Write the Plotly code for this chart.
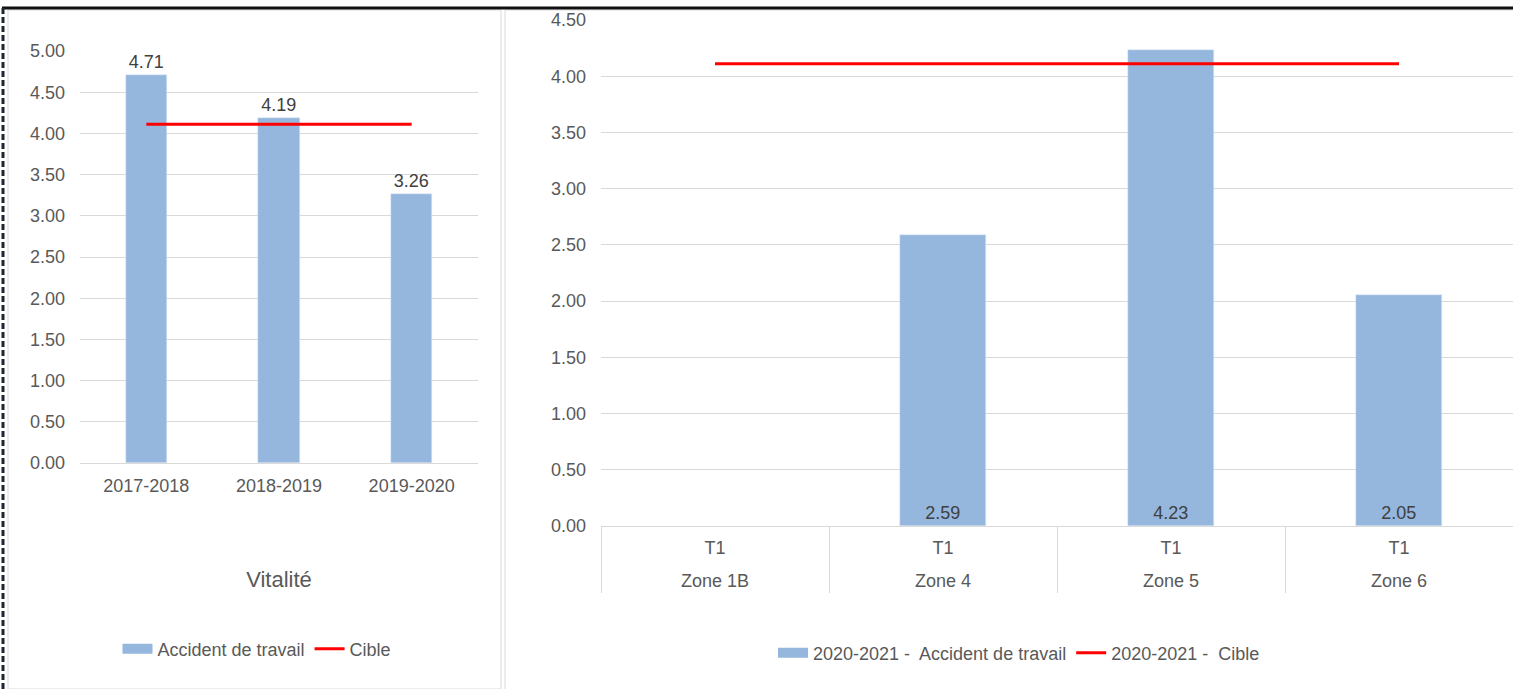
import plotly.graph_objects as go

# ---- data ----
years = ["2017-2018", "2018-2019", "2019-2020"]
accident_years = [4.71, 4.19, 3.26]
cible_years = [4.11, 4.11, 4.11]

zones = ["Zone 1B", "Zone 4", "Zone 5", "Zone 6"]
periods = ["T1", "T1", "T1", "T1"]
accident_zones = [None, 2.59, 4.23, 2.05]
cible_zones = [4.11, 4.11, 4.11, 4.11]

left_title = "Vitalité"
left_names = ["Accident de travail", "Cible"]
right_names = ["2020-2021 -\u00a0 Accident de travail", "2020-2021 -\u00a0 Cible"]

# ---- style ----
W, H = 1513, 689
FONT = "Liberation Sans, Arial, sans-serif"
TXT = "#595959"
GRID = "#d9d9d9"
BLUE = "#95b7dd"
RED = "#ff0000"


def px(x):
    return x / W


def py(y):
    return 1 - y / H


fig = go.Figure()

# left chart
fig.add_trace(go.Bar(
    x=years, y=accident_years, name=left_names[0], marker_color=BLUE,
    width=0.31, texttemplate="%{y:.2f}", textposition="outside",
    textfont=dict(size=18, color="#404040", family=FONT), cliponaxis=False,
    showlegend=False, xaxis="x", yaxis="y"))
fig.add_trace(go.Scatter(
    x=years, y=cible_years, name=left_names[1], mode="lines",
    line=dict(color=RED, width=3), showlegend=False, xaxis="x", yaxis="y"))
fig.add_trace(go.Scatter(
    x=[None], y=[None], name=left_names[0], mode="lines",
    line=dict(color=BLUE, width=10), legend="legend", xaxis="x", yaxis="y"))
fig.add_trace(go.Scatter(
    x=[None], y=[None], name=left_names[1], mode="lines",
    line=dict(color=RED, width=3), legend="legend", xaxis="x", yaxis="y"))

# right chart
fig.add_trace(go.Bar(
    x=zones, y=accident_zones, name=right_names[0], marker_color=BLUE,
    width=0.38, texttemplate="%{y:.2f}", textposition="inside",
    insidetextanchor="start", textangle=0,
    insidetextfont=dict(size=18, color="#404040", family=FONT),
    customdata=periods,
    showlegend=False, xaxis="x2", yaxis="y2"))
fig.add_trace(go.Scatter(
    x=zones, y=cible_zones, name=right_names[1], mode="lines",
    line=dict(color=RED, width=3), showlegend=False, xaxis="x2", yaxis="y2"))
# legend proxies (no data) – placed on the period-label axis so it is drawn
fig.add_trace(go.Scatter(
    x=[None], y=[None], name=right_names[0], mode="lines",
    line=dict(color=BLUE, width=10), legend="legend2", xaxis="x3", yaxis="y2"))
fig.add_trace(go.Scatter(
    x=[None], y=[None], name=right_names[1], mode="lines",
    line=dict(color=RED, width=3), legend="legend2", xaxis="x3", yaxis="y2"))

tickfont = dict(size=18, color=TXT, family=FONT)
n_zones = len(zones)

fig.update_layout(
    width=W, height=H,
    margin=dict(l=0, r=0, t=0, b=0, autoexpand=False),
    paper_bgcolor="white", plot_bgcolor="white",
    font=dict(family=FONT, color=TXT, size=18),
    bargap=0,
    xaxis=dict(domain=[px(80), px(478)], anchor="y", showgrid=False,
               showline=True, linecolor=GRID, linewidth=1, ticks="",
               tickfont=tickfont, ticklabelstandoff=6, automargin=False,
               title=dict(text=left_title, font=dict(size=22, color=TXT, family=FONT),
                          standoff=77)),
    yaxis=dict(domain=[py(463), py(51)], anchor="x", range=[0, 5], dtick=0.5,
               tickformat=".2f", showgrid=True, gridcolor=GRID, gridwidth=1,
               zeroline=False, showline=False, ticks="", tickfont=tickfont,
               ticklabelstandoff=14, automargin=False),
    # outer level (zones) with group dividers
    xaxis2=dict(domain=[px(601), 1.0], anchor="y2", type="category",
                range=[-0.5, n_zones - 0.5],
                showgrid=False, showline=True, linecolor=GRID, linewidth=1,
                ticks="outside", tickson="boundaries", ticklen=66,
                tickcolor=GRID, tickwidth=1,
                tickfont=tickfont, ticklabelstandoff=38, automargin=False),
    # inner level (periods)
    xaxis3=dict(domain=[px(601), 1.0], anchor="y2", overlaying="x2",
                type="linear", range=[-0.5, n_zones - 0.5],
                tickmode="array", tickvals=list(range(n_zones)), ticktext=periods,
                showgrid=False, showline=False, zeroline=False, ticks="",
                tickfont=tickfont, ticklabelstandoff=9, automargin=False),
    yaxis2=dict(domain=[py(526), py(20)], anchor="x2", range=[0, 4.5], dtick=0.5,
                tickformat=".2f", showgrid=True, gridcolor=GRID, gridwidth=1,
                zeroline=False, showline=False, ticks="", tickfont=tickfont,
                ticklabelstandoff=14, automargin=False),
    legend=dict(orientation="h", x=px(257), xanchor="center", y=py(649),
                yanchor="middle", font=dict(size=18, color=TXT, family=FONT),
                bgcolor="rgba(0,0,0,0)"),
    legend2=dict(orientation="h", x=px(1019), xanchor="center", y=py(653),
                 yanchor="middle", font=dict(size=18, color=TXT, family=FONT),
                 bgcolor="rgba(0,0,0,0)"),
    shapes=[
        dict(type="rect", xref="paper", yref="paper", x0=px(8), x1=px(501),
             y0=py(689), y1=py(10), line=dict(color=GRID, width=1)),
        dict(type="line", xref="paper", yref="paper", x0=px(505), x1=px(505),
             y0=py(689), y1=py(10), line=dict(color=GRID, width=1)),
        dict(type="line", xref="paper", yref="paper", x0=px(505), x1=1,
             y0=py(10), y1=py(10), line=dict(color=GRID, width=1)),
        dict(type="line", xref="paper", yref="paper", x0=px(2), x1=1,
             y0=py(8), y1=py(8), line=dict(color="#111111", width=3)),
        dict(type="line", xref="paper", yref="paper", x0=px(3), x1=px(3),
             y0=0, y1=py(8), line=dict(color="#1f2633", width=3, dash="6px,3px")),
    ],
)

fig.write_html("out.html",
               config={"displayModeBar": False},
               post_script="document.body.style.margin='0';"
                           "document.body.style.overflow='hidden';")
